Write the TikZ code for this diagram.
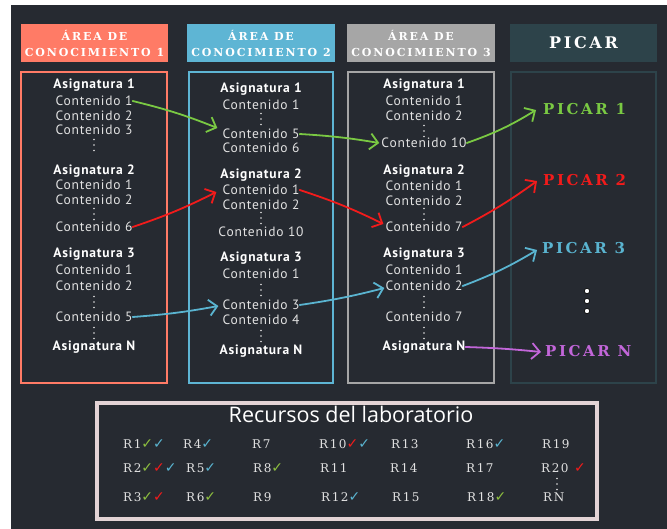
\documentclass[tikz,border=0pt]{standalone}
\usepackage{fontspec}
\usetikzlibrary{arrows.meta,calc}
\setmainfont{PT Sans}
\newfontfamily\hdrfont[LetterSpace=17]{DejaVu Serif}
\newfontfamily\picfont[LetterSpace=17]{DejaVu Serif}
\newfontfamily\gridfont[LetterSpace=13]{DejaVu Serif}
\newfontfamily\bodyfont[LetterSpace=6]{PT Sans}
\newfontfamily\titlefont{Open Sans}
\newfontfamily\symfont{DejaVu Sans}
\definecolor{bg}{HTML}{262A31}
\definecolor{salmon}{HTML}{FF7B66}
\definecolor{skyb}{HTML}{5EB5D4}
\definecolor{greyb}{HTML}{A6A6A6}
\definecolor{tealb}{HTML}{2D434A}
\definecolor{txt}{HTML}{E2E2E2}
\definecolor{agreen}{HTML}{7AC943}
\definecolor{ared}{HTML}{F21B1B}
\definecolor{ablue}{HTML}{5AB4D0}
\definecolor{apurple}{HTML}{C266D9}
\definecolor{ckg}{HTML}{8DBF3F}
\definecolor{rbord}{HTML}{E3D3D5}
\newcommand\ckm[1]{{\symfont\fontsize{14}{12}\selectfont\color{#1}✓}}
\begin{document}
\begin{tikzpicture}[x=1pt,y=-1pt,
  hbox/.style={minimum width=147, minimum height=38, inner sep=0, align=center,
    text=white, font=\hdrfont\bfseries\fontsize{11}{16}\selectfont},
  cbox/.style={minimum width=146, minimum height=311, inner sep=0, line width=2.5},
  asig/.style={inner sep=0, text=white, font=\bodyfont\bfseries\fontsize{13.5}{13}\selectfont},
  cont/.style={inner sep=0, text=txt, font=\bodyfont\fontsize{13.5}{13}\selectfont},
  pic/.style={inner sep=0, anchor=west, font=\picfont\bfseries\fontsize{15}{15}\selectfont},
  cell/.style={inner sep=0, anchor=west, text=txt, font=\gridfont\fontsize{12}{12}\selectfont},
  vdd/.pic={\fill[txt] (0,-5.5) circle (0.9) (0,0) circle (0.9) (0,5.5) circle (0.9);},
  arr/.style={line width=1.8, -{Straight Barb[length=8pt,width=16pt]}, line cap=round}]
\useasboundingbox (0,0) rectangle (667,529);
\fill[white] (0,0) rectangle (667,529);
\fill[bg] (11,5) rectangle (667,529);

% headers
\node[hbox, fill=salmon] (h1) at (94.5,43) {ÁREA DE\\CONOCIMIENTO 1};
\node[hbox, fill=skyb, minimum width=148] (h2) at (261,43) {ÁREA DE\\CONOCIMIENTO 2};
\node[hbox, fill=greyb, minimum width=148] (h3) at (421,43) {ÁREA DE\\CONOCIMIENTO 3};
\node[hbox, fill=tealb, font=\hdrfont\bfseries\fontsize{16}{16}\selectfont] (h4) at (583.5,43) {PICAR};

% column boxes
\node[cbox, draw=salmon] (b1) at (94,227.5) {};
\node[cbox, draw=skyb, minimum width=144] (b2) at (261,227.5) {};
\node[cbox, draw=greyb] (b3) at (421,227.5) {};
\node[cbox, draw=tealb, line width=2, minimum width=145] (b4) at (583.5,227.5) {};

% column 1
\node[asig] (a11) at (94,85) {Asignatura 1};
\node[cont] (c11a) at (94,101) {Contenido 1};
\node[cont] (c11b) at (94,116) {Contenido 2};
\node[cont] (c11c) at (94,130) {Contenido 3};
\pic at (94,145) {vdd};
\node[asig] (a12) at (94,171) {Asignatura 2};
\node[cont] (c12a) at (94,185) {Contenido 1};
\node[cont] (c12b) at (94,200) {Contenido 2};
\pic at (94,214) {vdd};
\node[cont] (c12c) at (94,227) {Contenido 6};
\node[asig] (a13) at (94,254) {Asignatura 3};
\node[cont] (c13a) at (94,270) {Contenido 1};
\node[cont] (c13b) at (94,286) {Contenido 2};
\pic at (94,302) {vdd};
\node[cont] (c13c) at (94,317) {Contenido 5};
\pic at (94,333) {vdd};
\node[asig] (a1n) at (94,347) {Asignatura N};

% column 2
\node[asig] (a21) at (261,89) {Asignatura 1};
\node[cont] (c21a) at (261,105) {Contenido 1};
\pic at (261,119) {vdd};
\node[cont] (c21b) at (261,134) {Contenido 5};
\node[cont] (c21c) at (261,148) {Contenido 6};
\node[asig] (a22) at (261,175) {Asignatura 2};
\node[cont] (c22a) at (261,190) {Contenido 1};
\node[cont] (c22b) at (261,205) {Contenido 2};
\pic at (261,218) {vdd};
\node[cont] (c22c) at (261,232) {Contenido 10};
\node[asig] (a23) at (261,258) {Asignatura 3};
\node[cont] (c23a) at (261,274) {Contenido 1};
\pic at (261,290) {vdd};
\node[cont] (c23b) at (261,305) {Contenido 3};
\node[cont] (c23c) at (261,320) {Contenido 4};
\pic at (261,336) {vdd};
\node[asig] (a2n) at (261,351) {Asignatura N};

% column 3
\node[asig] (a31) at (424,85) {Asignatura 1};
\node[cont] (c31a) at (424,101) {Contenido 1};
\node[cont] (c31b) at (424,116) {Contenido 2};
\pic at (424,131) {vdd};
\node[cont] (c31c) at (424,143) {Contenido 10};
\node[asig] (a32) at (424,171) {Asignatura 2};
\node[cont] (c32a) at (424,186) {Contenido 1};
\node[cont] (c32b) at (424,201) {Contenido 2};
\pic at (424,214) {vdd};
\node[cont] (c32c) at (424,227) {Contenido 7};
\node[asig] (a33) at (424,254) {Asignatura 3};
\node[cont] (c33a) at (424,270) {Contenido 1};
\node[cont] (c33b) at (424,286) {Contenido 2};
\pic at (424,302) {vdd};
\node[cont] (c33c) at (424,317) {Contenido 7};
\pic at (424,333) {vdd};
\node[asig] (a3n) at (424,347) {Asignatura N};

% PICAR column
\node[pic, text=agreen] (p1) at (543,109) {PICAR 1};
\node[pic, text=ared] (p2) at (543,180) {PICAR 2};
\node[pic, text=ablue] (p3) at (542,248) {PICAR 3};
\node[pic, text=apurple] (pn) at (545,351) {PICAR N};
\foreach \yy in {291,301,311} \filldraw[fill=white, draw=black, line width=0.6] (587,\yy) circle (2.6);

% arrows
\draw[arr, agreen] (c11a.east) to[bend left=4] ($(c21b.west)+(-5,-6)$);
\draw[arr, agreen] (c21b.east) to[bend left=3] ($(c31c.west)+(-2,0)$);
\draw[arr, agreen] (c31c.east) to[bend right=6] ($(p1.west)+(-7,1)$);
\draw[arr, ared] (c12c.east) to[bend right=4] ($(c22a.west)+(-6,2)$);
\draw[arr, ared] (c22a.east) to[bend left=4] ($(c32c.west)+(-2,-3)$);
\draw[arr, ared] (c32c.east) to[bend right=4] ($(p2.west)+(-6,1)$);
\draw[arr, ablue] (c13c.east) to[bend right=3] ($(c23b.west)+(-4,1)$);
\draw[arr, ablue] (c23b.east) to[bend right=3] ($(c33b.west)+(-1,2)$);
\draw[arr, ablue] (c33b.east) to[bend right=5] ($(p3.west)+(-5,2)$);
\draw[arr, apurple] (a3n.east) to[bend left=2] ($(pn.west)+(-4,1)$);

% resources
\node[draw=rbord, line width=4, minimum width=500, minimum height=116, inner sep=0] (res) at (347,461) {};
\node[inner sep=0, text=white, font=\titlefont\fontsize{21.5}{21}\selectfont] (rt) at (351,414) {Recursos del laboratorio};
\node[cell] (r1) at (123,444) {R1\ckm{ckg}\ckm{ablue}};
\node[cell] (r4) at (183,444) {R4\ckm{ablue}};
\node[cell] (r7) at (252,444) {R7};
\node[cell] (r10) at (319,444) {R10\ckm{ared}\ckm{ablue}};
\node[cell] (r13) at (391,444) {R13};
\node[cell] (r16) at (466,444) {R16\ckm{ablue}};
\node[cell] (r19) at (542,444) {R19};
\node[cell] (r2) at (123,468) {R2\ckm{ckg}\ckm{ared}\ckm{ablue}};
\node[cell] (r5) at (186,468) {R5\ckm{ablue}};
\node[cell] (r8) at (253,468) {R8\ckm{ckg}};
\node[cell] (r11) at (320,468) {R11};
\node[cell] (r14) at (390,468) {R14};
\node[cell] (r17) at (466,468) {R17};
\node[cell] (r20) at (541,468) {R20 \ckm{ared}};
\node[cell] (r3) at (123,497) {R3\ckm{ckg}\ckm{ared}};
\node[cell] (r6) at (186,497) {R6\ckm{ckg}};
\node[cell] (r9) at (253,497) {R9};
\node[cell] (r12) at (321,497) {R12\ckm{ablue}};
\node[cell] (r15) at (392,497) {R15};
\node[cell] (r18) at (467,497) {R18\ckm{ckg}};
\node[cell] (rn) at (543,497) {RN};
\pic at (557,484) {vdd};
\end{tikzpicture}
\end{document}
